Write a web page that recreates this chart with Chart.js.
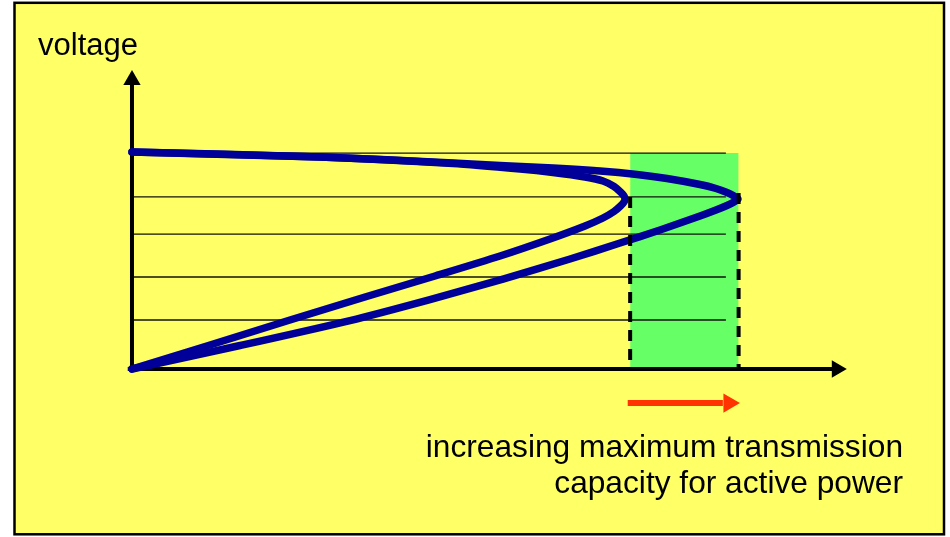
<!DOCTYPE html>
<html>
<head>
<meta charset="utf-8">
<script src="https://cdn.jsdelivr.net/npm/chart.js@4.4.1/dist/chart.umd.min.js"></script>
<style>
  html, body { margin: 0; padding: 0; background: #fff; }
  #wrap { position: relative; width: 950px; height: 537px; }
</style>
</head>
<body>
<div id="wrap"><canvas id="pv" width="950" height="537"></canvas></div>
<script>
// P-V ("nose") curves: active power P (outer nose = 100) vs voltage V (no-load = 100)
const innerPower   = [0, 12.87, 26.07, 38.45, 50.0, 60.73, 68.98, 74.75, 77.72, 79.54, 80.61, 81.19, 81.35,
                      81.19, 80.61, 79.54, 77.72, 74.75, 69.47, 64.03, 52.97, 31.02, 0];
const innerVoltage = [0, 11.06, 22.58, 33.18, 42.86, 52.07, 59.91, 65.9, 69.59, 72.58, 75.12, 76.96, 78.34,
                      79.72, 81.57, 84.1, 86.64, 88.48, 90.55, 92.17, 94.7, 97.7, 100];
const outerPower   = [0, 17.82, 35.97, 49.17, 61.22, 72.28, 80.53, 87.13, 93.73, 96.37, 98.18, 99.34, 100,
                      99.34, 98.18, 96.37, 93.73, 88.28, 83.33, 77.23, 69.47, 60.73, 52.97, 31.02, 0];
const outerVoltage = [0, 10.83, 22.35, 32.03, 41.47, 50.69, 58.06, 64.06, 70.51, 73.27, 75.35, 76.96, 78.34,
                      79.72, 81.34, 83.18, 85.02, 87.79, 89.63, 91.24, 92.63, 93.78, 94.93, 97.7, 100];

// thin horizontal reference lines
const gridVoltages = [99.5, 79.3, 62.2, 42.4, 22.6];
const gridEnd = 98.0;

// maximum transmission capacity (before / after)
const limitPower = [82.2, 100.1];
const limitVoltage = [79.3, 81.1];
const bandTop = 99.5;

// axes and the red arrow
const axisEndP = 116.3;
const axisEndV = 133.2;
const arrowFrom = 81.8, arrowTo = 98.5, arrowLevel = -15.7;

const BLUE = '#000099';
const zip = (xs, ys) => xs.map((x, i) => ({ x, y: ys[i] }));

function seg(points, color, width, order, extra) {
    return Object.assign({
        data: points,
        showLine: true,
        borderColor: color,
        borderWidth: width,
        pointRadius: 0,
        fill: false,
        order
    }, extra || {});
}

function head(p, v, rot, r, color, order) {
    return {
        data: [{ x: p, y: v }],
        showLine: false,
        pointStyle: 'triangle',
        rotation: rot,
        pointRadius: r,
        pointBackgroundColor: color,
        pointBorderColor: color,
        pointBorderWidth: 0,
        order
    };
}

const datasets = [];

// green band
datasets.push(seg([{ x: limitPower[0], y: bandTop }, { x: limitPower[1], y: bandTop }],
    'rgba(0,0,0,0)', 0, 9, { fill: 'origin', backgroundColor: '#66FF66' }));

// grid lines
gridVoltages.forEach(v => {
    datasets.push(seg([{ x: 0, y: v }, { x: gridEnd, y: v }], '#111', 1.3, 8));
});

// axes
datasets.push(seg([{ x: 0, y: -1.4 }, { x: 0, y: axisEndV }], '#000', 4, 6));
datasets.push(seg([{ x: -0.7, y: 0 }, { x: axisEndP, y: 0 }], '#000', 4, 6));
datasets.push(head(0, axisEndV, 0, 10, '#000', 5));
datasets.push(head(axisEndP, 0, 90, 10, '#000', 5));

// curves
const curveStyle = { tension: 0.25, borderJoinStyle: 'round', borderCapStyle: 'round' };
datasets.push(seg(zip(outerPower, outerVoltage), BLUE, 7.5, 3, curveStyle));
datasets.push(seg(zip(innerPower, innerVoltage), BLUE, 7.5, 3, curveStyle));

// dashed limits
limitPower.forEach((p, i) => {
    datasets.push(seg([{ x: p, y: limitVoltage[i] }, { x: p, y: 0 }], '#000', 4, 1,
        { borderDash: [11, 8], borderCapStyle: 'butt' }));
});

// red arrow
datasets.push(seg([{ x: arrowFrom, y: arrowLevel }, { x: arrowTo - 1, y: arrowLevel }], '#FF3300', 6, 2,
    { borderCapStyle: 'butt' }));
datasets.push(head(arrowTo, arrowLevel, 90, 11, '#FF3300', 2));

const frame = {
    id: 'frame',
    beforeDraw(chart) {
        const c = chart.ctx;
        c.save();
        c.fillStyle = '#fff';
        c.fillRect(0, 0, chart.width, chart.height);
        c.fillStyle = '#FFFF66';
        c.fillRect(15, 3, 929, 531);
        c.strokeStyle = '#000';
        c.lineWidth = 2.5;
        c.strokeRect(14.5, 2.8, 929.5, 531.5);
        c.restore();
    },
    afterDraw(chart) {
        const c = chart.ctx;
        c.save();
        c.fillStyle = '#000';
        c.textBaseline = 'alphabetic';
        c.font = '31px "Liberation Sans", Arial, sans-serif';
        c.textAlign = 'left';
        c.fillText('voltage', 38, 55);
        c.font = '31.7px "Liberation Sans", Arial, sans-serif';
        c.textAlign = 'right';
        c.fillText('increasing maximum transmission', 903, 457);
        c.fillText('capacity for active power', 903, 493);
        c.restore();
    }
};

new Chart(document.getElementById('pv'), {
    type: 'scatter',
    data: { datasets },
    options: {
        responsive: false,
        animation: false,
        layout: { padding: 0, autoPadding: false },
        plugins: { legend: { display: false }, tooltip: { enabled: false } },
        scales: {
            x: { type: 'linear', display: false, min: -21.78, max: 134.98 },
            y: { type: 'linear', display: false, min: -77.4, max: 170.05 }
        }
    },
    plugins: [frame]
});
</script>
</body>
</html>
